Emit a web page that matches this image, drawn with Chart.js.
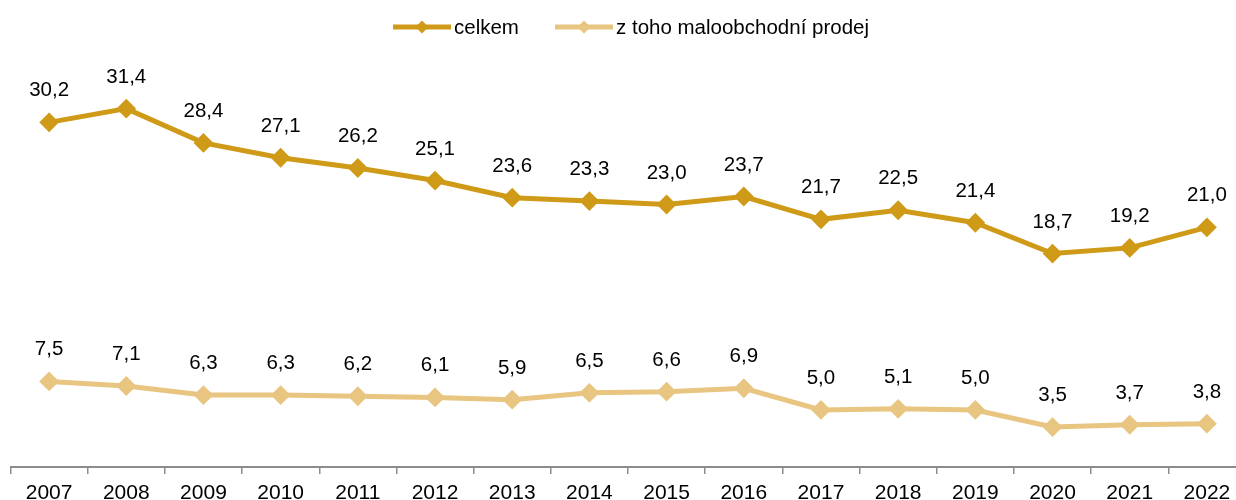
<!DOCTYPE html>
<html>
<head>
<meta charset="utf-8">
<script src="https://cdn.jsdelivr.net/npm/chart.js@4/dist/chart.umd.min.js"></script>
<style>
  html, body { margin: 0; padding: 0; background: #fff; overflow: hidden; width: 1236px; height: 500px; }
  #wrap { position: relative; width: 1236px; height: 500px; overflow: hidden; }
  canvas { position: absolute; left: 0; top: 0; }
  .leg { position: absolute; top: 14px; height: 26px; display: flex; align-items: center;
         font-family: "Liberation Sans", Arial, sans-serif; font-size: 20.5px; color: #000; white-space: nowrap; }
  .leg svg { display: block; margin-right: 3px; }
</style>
</head>
<body>
<div id="wrap">
  <canvas id="c" width="1256" height="500"></canvas>
  <div class="leg" style="left:393px;">
    <svg width="58" height="16"><line x1="0" y1="8" x2="58" y2="8" stroke="#CF9A17" stroke-width="5" stroke-linecap="round"/><polygon points="29,1.5 35.5,8 29,14.5 22.5,8" fill="#CF9A17"/></svg><span id="l1"></span>
  </div>
  <div class="leg" style="left:555px;">
    <svg width="58" height="16"><line x1="0" y1="8" x2="58" y2="8" stroke="#E8C580" stroke-width="5" stroke-linecap="round"/><polygon points="29,1.5 35.5,8 29,14.5 22.5,8" fill="#E8C580"/></svg><span id="l2"></span>
  </div>
</div>
<script>
const categories = ["2007","2008","2009","2010","2011","2012","2013","2014","2015","2016","2017","2018","2019","2020","2021","2022"];
const seriesNames = ["celkem", "z toho maloobchodní prodej"];
const celkem = [30.2, 31.4, 28.4, 27.1, 26.2, 25.1, 23.6, 23.3, 23.0, 23.7, 21.7, 22.5, 21.4, 18.7, 19.2, 21.0];
const maloobchod = [7.5, 7.1, 6.3, 6.3, 6.2, 6.1, 5.9, 6.5, 6.6, 6.9, 5.0, 5.1, 5.0, 3.5, 3.7, 3.8];
const colors = ["#CF9A17", "#E8C580"];

document.getElementById('l1').textContent = seriesNames[0];
document.getElementById('l2').textContent = seriesNames[1];

const FONT = '"Liberation Sans", Arial, sans-serif';

const labelPlugin = {
  id: 'valueLabels',
  afterDatasetsDraw(chart) {
    const ctx = chart.ctx;
    ctx.save();
    ctx.font = '20.5px ' + FONT;
    ctx.fillStyle = '#000';
    ctx.textAlign = 'center';
    ctx.textBaseline = 'alphabetic';
    chart.data.datasets.forEach((ds, i) => {
      const meta = chart.getDatasetMeta(i);
      meta.data.forEach((pt, j) => {
        const txt = ds.data[j].toFixed(1).replace('.', ',');
        ctx.fillText(txt, pt.x, pt.y - 26);
      });
    });
    ctx.restore();
  }
};

function mkDs(label, data, color) {
  return {
    label, data,
    borderColor: color, backgroundColor: color,
    borderWidth: 5, tension: 0,
    pointStyle: 'rectRot', pointRadius: 8.5, pointBorderWidth: 2,
    pointBackgroundColor: color, pointBorderColor: color,
    pointHoverRadius: 8.5
  };
}

new Chart(document.getElementById('c'), {
  type: 'line',
  data: {
    labels: categories,
    datasets: [mkDs(seriesNames[0], celkem, colors[0]), mkDs(seriesNames[1], maloobchod, colors[1])]
  },
  options: {
    responsive: false,
    animation: false,
    layout: { padding: { left: 8, right: 8, top: 7, bottom: 0 } },
    plugins: { legend: { display: false }, tooltip: { enabled: false } },
    scales: {
      x: {
        offset: true,
        afterFit(scale) { scale.height = 33; },
        grid: { offset: true, drawOnChartArea: false, drawTicks: true, tickLength: 7, color: '#8c8c8c', lineWidth: 1.5 },
        border: { display: true, color: '#8c8c8c', width: 2 },
        ticks: { color: '#000', font: { family: FONT, size: 21, lineHeight: '16px' }, padding: 11, maxRotation: 0, autoSkip: false }
      },
      y: { display: false, min: 0, max: 40 }
    }
  },
  plugins: [labelPlugin]
});
</script>
</body>
</html>
